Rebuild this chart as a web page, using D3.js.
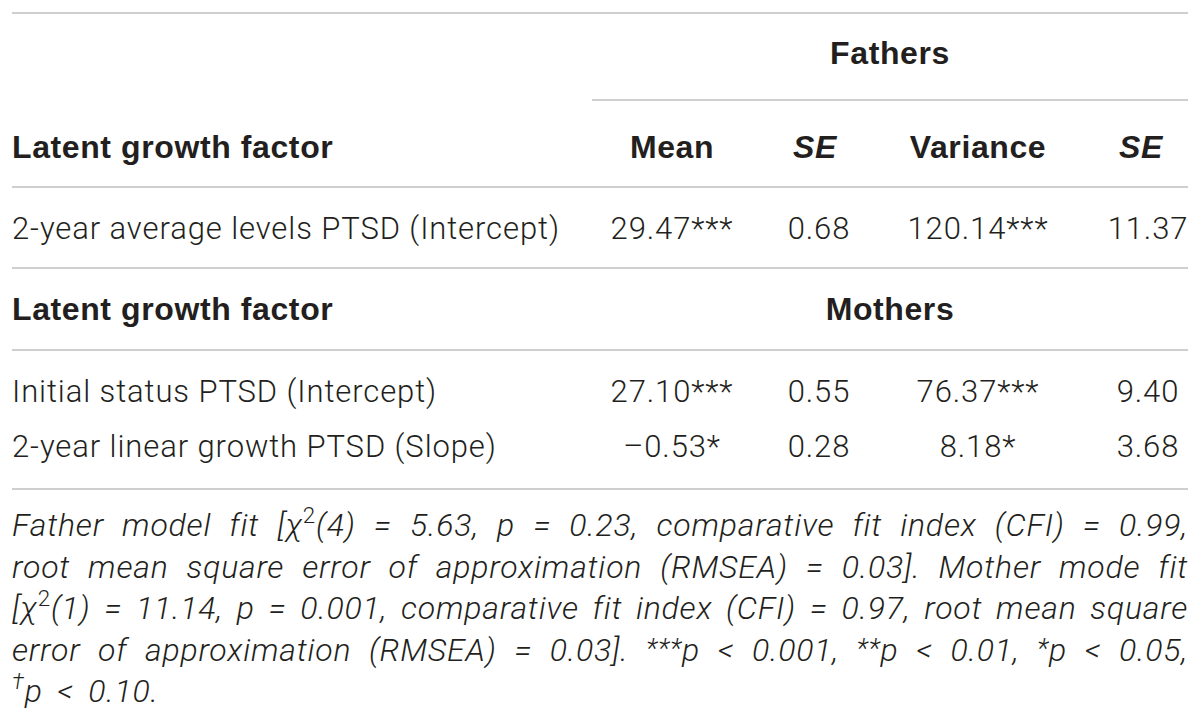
<!DOCTYPE html>
<meta charset="utf-8">
<script src="https://cdn.jsdelivr.net/npm/d3@7"></script>
<style>
    body { margin: 0; background: #fff; }
    .rule { stroke: #cfcfcf; stroke-width: 2; shape-rendering: crispEdges; }
    .head { font-family: "Liberation Sans", Arial, sans-serif; font-weight: bold; fill: #231f20; letter-spacing: 0.6px; }
    .cell { font-family: Roboto, "Liberation Sans", sans-serif; font-weight: 300; fill: #231f20; letter-spacing: 0.9px; }
    .note { font-family: Roboto, "Liberation Sans", sans-serif; font-weight: 300; font-style: italic; fill: #231f20; letter-spacing: 0.8px; }
</style>
<body>
<div id="table"></div>
<script>

    // table content
    var columns = ["Mean", "SE", "Variance", "SE"]
    var italicCols = [false, true, false, true]
    var groups = ["Fathers", "Mothers"]
    var stubHead = "Latent growth factor"

    var fatherRows = ["2-year average levels PTSD (Intercept)"]
    var fatherMean = [29.47]
    var fatherMeanSig = ["***"]
    var fatherMeanSE = [0.68]
    var fatherVar = [120.14]
    var fatherVarSig = ["***"]
    var fatherVarSE = [11.37]

    var motherRows = ["Initial status PTSD (Intercept)", "2-year linear growth PTSD (Slope)"]
    var motherMean = [27.10, -0.53]
    var motherMeanSig = ["***", "*"]
    var motherMeanSE = [0.55, 0.28]
    var motherVar = [76.37, 8.18]
    var motherVarSig = ["***", "*"]
    var motherVarSE = [9.40, 3.68]

    // footnote lines, ^..^ marks superscript
    var noteLines = [
        "Father model fit [χ^2^(4) = 5.63, p = 0.23, comparative fit index (CFI) = 0.99,",
        "root mean square error of approximation (RMSEA) = 0.03]. Mother mode fit",
        "[χ^2^(1) = 11.14, p = 0.001, comparative fit index (CFI) = 0.97, root mean square",
        "error of approximation (RMSEA) = 0.03]. ^***^p < 0.001, ^**^p < 0.01, ^*^p < 0.05,",
        "^†^p < 0.10."
    ]

    var w = 1200, h = 724
    var left = 12, right = 1188, spanLeft = 592, groupCenter = 890
    var fs = 31, headFs = 32, noteFs = 32

    var fmt = function (v) { return (v < 0 ? "\u2013" : "") + d3.format(".2f")(Math.abs(v)) }

    var svg = d3.select("#table").append("svg").attr("width", w).attr("height", h)

    var x = d3.scaleOrdinal().domain(d3.range(columns.length)).range([672, 819, 978, 1148])

    function rule(y, x0) {
        svg.append("line").attr("class", "rule").attr("x1", x0).attr("x2", right).attr("y1", y).attr("y2", y)
    }

    function groupHeader(name, y, withStub) {
        if (withStub) svg.append("text").attr("class", "head").attr("x", left).attr("y", y).style("font-size", headFs + "px").text(stubHead)
        svg.append("text").attr("class", "head").attr("x", groupCenter).attr("y", y)
            .style("text-anchor", "middle").style("font-size", headFs + "px").text(name)
    }

    function bodyRows(labels, cols, y0, step) {
        labels.forEach(function (lab, i) {
            var y = y0 + i * step
            svg.append("text").attr("class", "cell").attr("x", left).attr("y", y).style("font-size", fs + "px").text(lab)
            cols.forEach(function (c, j) {
                svg.append("text").attr("class", "cell").attr("x", x(j)).attr("y", y)
                    .style("text-anchor", "middle").style("font-size", fs + "px")
                    .text(fmt(c.v[i]) + (c.sig ? c.sig[i] : ""))
            })
        })
    }

    rule(13, left)
    groupHeader(groups[0], 64, false)
    rule(100, spanLeft)

    svg.append("text").attr("class", "head").attr("x", left).attr("y", 158).style("font-size", headFs + "px").text(stubHead)
    svg.selectAll(".colhead").data(columns).enter().append("text").attr("class", "head colhead")
        .attr("x", function (d, i) { return x(i) - (i == 3 ? 7 : i == 1 ? 4 : 0) }).attr("y", 158)
        .style("text-anchor", "middle").style("font-size", headFs + "px")
        .style("font-style", function (d, i) { return italicCols[i] ? "italic" : "normal" })
        .text(function (d) { return d })
    rule(187, left)

    bodyRows(fatherRows, [
        { v: fatherMean, sig: fatherMeanSig }, { v: fatherMeanSE }, { v: fatherVar, sig: fatherVarSig }, { v: fatherVarSE }
    ], 239, 55)
    rule(268, left)

    groupHeader(groups[1], 320, true)
    rule(350, left)

    bodyRows(motherRows, [
        { v: motherMean, sig: motherMeanSig }, { v: motherMeanSE }, { v: motherVar, sig: motherVarSig }, { v: motherVarSE }
    ], 402, 55)
    rule(489, left)

    // justified footnote
    function addWord(g, word, y) {
        var t = g.append("text").attr("class", "note").attr("y", y).style("font-size", noteFs + "px")
        word.split("^").forEach(function (seg, k) {
            if (!seg) return
            var sp = t.append("tspan").text(seg)
            if (k % 2 == 1) {
                if (seg == "2") sp.attr("baseline-shift", "super").style("font-size", (noteFs * 0.7) + "px").style("font-style", "normal")
                else if (seg == "†") sp.attr("baseline-shift", "super").style("font-size", (noteFs * 0.7) + "px")
                else sp.attr("baseline-shift", "3").style("font-size", (noteFs * 0.85) + "px")
            }
        })
        return t
    }

    var note = svg.append("g")
    noteLines.forEach(function (line, li) {
        var y = 536 + li * 41.5
        var words = line.split(" ")
        var nodes = words.map(function (wd) { return addWord(note, wd, y) })
        var widths = nodes.map(function (n) { return n.node().getComputedTextLength() })
        var total = d3.sum(widths)
        var last = li == noteLines.length - 1
        var gap = last || words.length < 2 ? noteFs * 0.45 : (right - left - total) / (words.length - 1)
        var cx = left
        nodes.forEach(function (n, k) {
            n.attr("x", cx)
            cx += widths[k] + gap
        })
    })

</script>
</body>
</html>
